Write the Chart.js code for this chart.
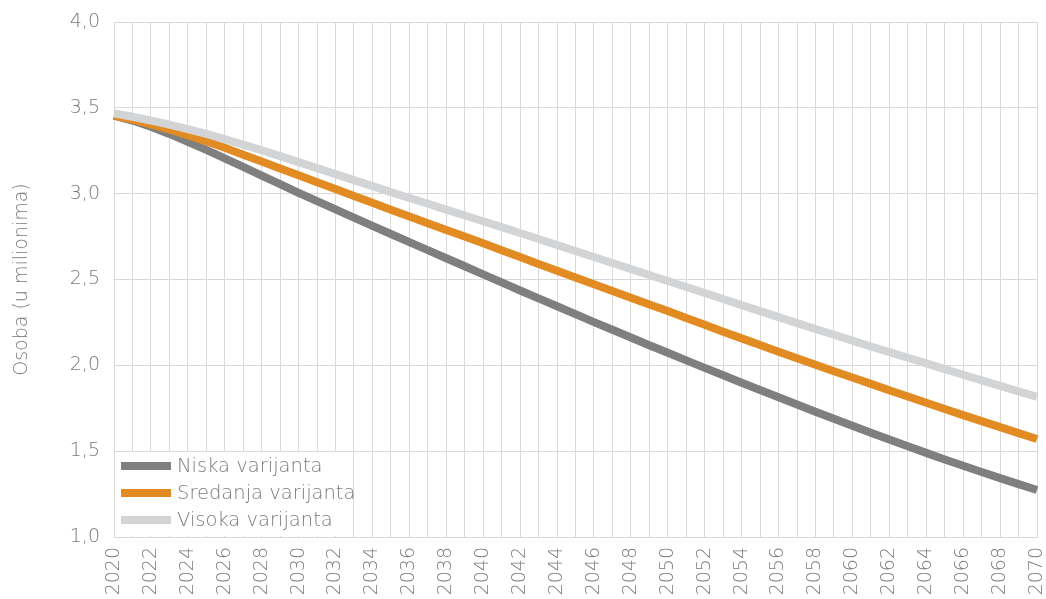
<!DOCTYPE html>
<html>
<head>
<meta charset="utf-8">
<script src="https://cdn.jsdelivr.net/npm/chart.js@4/dist/chart.umd.min.js"></script>
<style>
  html, body { margin: 0; padding: 0; background: #ffffff; }
  #wrap { width: 1046px; height: 599px; }
</style>
</head>
<body>
<div id="wrap"><canvas id="c" width="1046" height="599"></canvas></div>
<script>
const years = [];
for (let y = 2020; y <= 2070; y++) years.push(String(y));

const seriesNames = ['Niska varijanta', 'Sredanja varijanta', 'Visoka varijanta'];
const seriesColors = ['#7f7f7f', '#e38b23', '#d3d4d6'];

const niska = [3.455, 3.426, 3.390, 3.348, 3.302, 3.255, 3.206, 3.156, 3.105, 3.055,
  3.005, 2.956, 2.908, 2.860, 2.812, 2.765, 2.718, 2.671, 2.624, 2.577,
  2.530, 2.483, 2.436, 2.390, 2.344, 2.298, 2.252, 2.207, 2.162, 2.117,
  2.073, 2.029, 1.985, 1.942, 1.899, 1.856, 1.814, 1.772, 1.730, 1.689,
  1.648, 1.608, 1.568, 1.529, 1.490, 1.452, 1.415, 1.379, 1.343, 1.308, 1.274];

const sredanja = [3.455, 3.431, 3.404, 3.374, 3.341, 3.305, 3.267, 3.227, 3.187, 3.147,
  3.107, 3.067, 3.027, 2.987, 2.947, 2.907, 2.867, 2.828, 2.789, 2.750,
  2.711, 2.671, 2.631, 2.591, 2.551, 2.511, 2.472, 2.433, 2.394, 2.355,
  2.316, 2.276, 2.236, 2.196, 2.157, 2.118, 2.079, 2.041, 2.003, 1.966,
  1.929, 1.892, 1.855, 1.818, 1.782, 1.746, 1.710, 1.675, 1.640, 1.605, 1.571];

const visoka = [3.468, 3.448, 3.426, 3.402, 3.376, 3.348, 3.318, 3.286, 3.253, 3.219,
  3.184, 3.149, 3.114, 3.079, 3.044, 3.009, 2.975, 2.941, 2.907, 2.873,
  2.839, 2.805, 2.771, 2.736, 2.701, 2.666, 2.631, 2.596, 2.561, 2.526,
  2.491, 2.456, 2.421, 2.386, 2.351, 2.316, 2.281, 2.246, 2.212, 2.178,
  2.144, 2.110, 2.077, 2.044, 2.011, 1.978, 1.945, 1.912, 1.880, 1.848, 1.816];

const yTickValues = [1.0, 1.5, 2.0, 2.5, 3.0, 3.5, 4.0];
const yTitle = 'Osoba (u milionima)';

const FONT = '"DejaVu Sans"';
const WEIGHT = 200;
const TEXT_COLOR = '#7a7a7a';
const GRID = '#d9d9d9';

const legendPlugin = {
  id: 'boxLegend',
  afterDraw(chart) {
    const ctx = chart.ctx;
    const area = chart.chartArea;
    ctx.save();
    ctx.fillStyle = '#ffffff';
    ctx.fillRect(area.left + 1, area.bottom - 85, 238, 84);
    const rows = [area.bottom - 71, area.bottom - 44, area.bottom - 17];
    chart.data.datasets.forEach((ds, i) => {
      const y = rows[i];
      ctx.strokeStyle = ds.borderColor;
      ctx.lineWidth = 8;
      ctx.lineCap = 'butt';
      ctx.beginPath();
      ctx.moveTo(area.left + 7, y);
      ctx.lineTo(area.left + 57, y);
      ctx.stroke();
      ctx.fillStyle = TEXT_COLOR;
      ctx.font = WEIGHT + ' 19.5px ' + FONT;
      ctx.textBaseline = 'middle';
      ctx.textAlign = 'left';
      ctx.fillText(ds.label, area.left + 63, y + 1);
    });
    ctx.restore();
  }
};

const datasets = [niska, sredanja, visoka].map((d, i) => ({
  label: seriesNames[i],
  data: d,
  borderColor: seriesColors[i],
  backgroundColor: seriesColors[i],
  borderWidth: 8,
  borderJoinStyle: 'round',
  pointRadius: 0,
  tension: 0,
  fill: false,
  order: 2 - i
}));

new Chart(document.getElementById('c'), {
  type: 'line',
  data: { labels: years, datasets },
  options: {
    responsive: false,
    animation: false,
    layout: { padding: { top: 22, right: 9, left: 0, bottom: 0 } },
    plugins: { legend: { display: false }, tooltip: { enabled: false } },
    scales: {
      x: {
        grid: { color: GRID, drawTicks: false, lineWidth: 1 },
        border: { color: GRID },
        ticks: {
          autoSkip: false, minRotation: 90, maxRotation: 90, padding: 10,
          color: TEXT_COLOR, font: { family: FONT, size: 19, weight: WEIGHT },
          callback: (v, i) => (i % 2 === 0 ? years[i] : '')
        },
        afterFit: (s) => { s.height = 62; s.paddingLeft = 0; s.paddingRight = 0; }
      },
      y: {
        min: 1.0, max: 4.0,
        afterBuildTicks: (s) => { s.ticks = yTickValues.map(v => ({ value: v })); },
        grid: { color: GRID, drawTicks: false },
        border: { color: GRID },
        ticks: {
          padding: 14, color: TEXT_COLOR,
          font: { family: FONT, size: 19, weight: WEIGHT },
          callback: (v) => Number(v).toFixed(1).replace('.', ',')
        },
        title: {
          display: true, text: yTitle, color: TEXT_COLOR,
          font: { family: FONT, size: 19, weight: WEIGHT },
          padding: { top: 11, bottom: 0 }
        },
        afterFit: (s) => { s.width = 114; s.paddingTop = 0; s.paddingBottom = 0; }
      }
    }
  },
  plugins: [legendPlugin]
});
</script>
</body>
</html>
